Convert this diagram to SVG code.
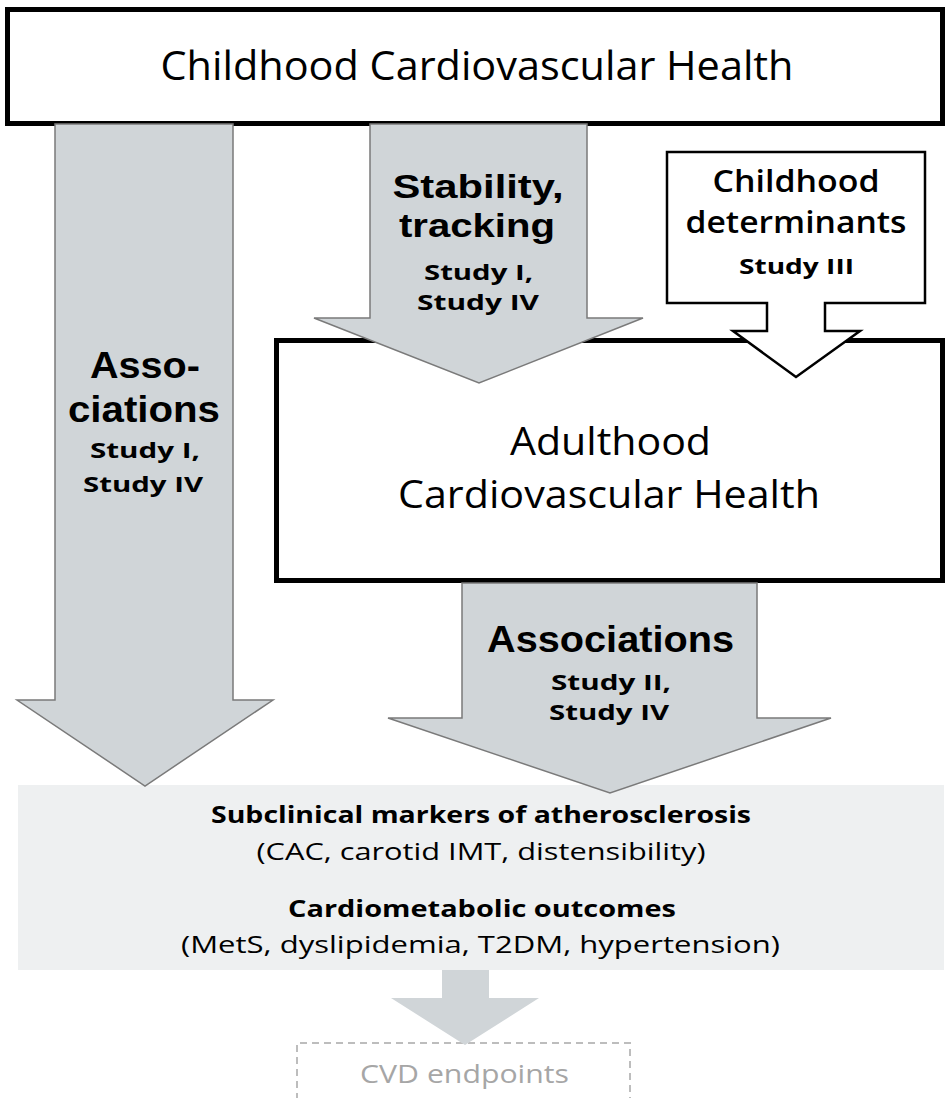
<svg xmlns="http://www.w3.org/2000/svg" width="946" height="1098" viewBox="0 0 946 1098">
<style>
text{font-family:"Open Sans","Liberation Sans",sans-serif;text-anchor:middle;fill:#000}
.b{font-weight:700}
.big{font-family:"Liberation Sans","Open Sans",sans-serif;font-weight:700}
.box{fill:#fff;stroke:#000;stroke-width:5}
.arr{fill:#d0d5d8;stroke:#7a7a7a;stroke-width:1.5;stroke-linejoin:miter}
</style>
<rect width="946" height="1098" fill="#fff"/>
<g id="panel">
<rect x="18" y="785" width="926" height="185" fill="#eef0f1"/>
<text class="b" x="481" y="823" font-size="24" textLength="540" lengthAdjust="spacingAndGlyphs">Subclinical markers of atherosclerosis</text>
<text x="481" y="860" font-size="24" textLength="449" lengthAdjust="spacingAndGlyphs">(CAC, carotid IMT, distensibility)</text>
<text class="b" x="482" y="917" font-size="24" textLength="388" lengthAdjust="spacingAndGlyphs">Cardiometabolic outcomes</text>
<text x="480.5" y="953" font-size="24" textLength="599" lengthAdjust="spacingAndGlyphs">(MetS, dyslipidemia, T2DM, hypertension)</text>
</g>
<g id="cvd">
<path d="M297,1100 V1043 H630 V1100" fill="none" stroke="#bdbdbd" stroke-width="2" stroke-dasharray="7 5"/>
<text x="464.5" y="1083" font-size="26" style="fill:#a6a6a6" textLength="209" lengthAdjust="spacingAndGlyphs">CVD endpoints</text>
</g>
<g id="childhood">
<rect class="box" x="7.5" y="9.5" width="935" height="114"/>
<text x="477" y="80" font-size="40" textLength="633" lengthAdjust="spacingAndGlyphs">Childhood Cardiovascular Health</text>
</g>
<g id="adulthood">
<rect class="box" x="276.5" y="340.5" width="666" height="240"/>
<text x="610.5" y="455" font-size="38" textLength="201" lengthAdjust="spacingAndGlyphs">Adulthood</text>
<text x="609" y="508" font-size="38" textLength="422" lengthAdjust="spacingAndGlyphs">Cardiovascular Health</text>
</g>
<g id="connectors">
<path id="arr-left" class="arr" d="M55,124 H233 V700 H273 L145,786 L17,700 H55 Z"/>
<path id="arr-stability" class="arr" d="M370,124 H587 V318 H643 L479,383 L314,318 H370 Z"/>
<path id="arr-assoc" class="arr" d="M462,583 H757 V718 H831 L610,793 L388,718 H462 Z"/>
<path id="arr-cvd" d="M442,970 H489 V998 H539 L465,1045 L391,998 H442 Z" fill="#d0d5d8"/>
</g>
<g id="determinants">
<path d="M667,152 H925 V303 H825 V331 H860 L796,377 L733,331 H767 V303 H667 Z" fill="#fff" stroke="#000" stroke-width="2.5"/>
<text x="796" y="192" font-size="30" font-weight="600" textLength="167" lengthAdjust="spacingAndGlyphs">Childhood</text>
<text x="796" y="233" font-size="30" font-weight="600" textLength="221" lengthAdjust="spacingAndGlyphs">determinants</text>
<text class="b" x="796.5" y="274" font-size="22" textLength="115" lengthAdjust="spacingAndGlyphs">Study III</text>
</g>
<g id="labels">
<text class="big" x="478" y="198" font-size="33" textLength="171" lengthAdjust="spacingAndGlyphs">Stability,</text>
<text class="big" x="477" y="237" font-size="33" textLength="156" lengthAdjust="spacingAndGlyphs">tracking</text>
<text class="b" x="478.5" y="280" font-size="22" textLength="109" lengthAdjust="spacingAndGlyphs">Study I,</text>
<text class="b" x="478" y="310" font-size="22" textLength="122" lengthAdjust="spacingAndGlyphs">Study IV</text>
<text class="big" x="145" y="378" font-size="36" textLength="110" lengthAdjust="spacingAndGlyphs">Asso-</text>
<text class="big" x="144" y="422" font-size="36" textLength="152" lengthAdjust="spacingAndGlyphs">ciations</text>
<text class="b" x="145" y="458" font-size="22" textLength="110" lengthAdjust="spacingAndGlyphs">Study I,</text>
<text class="b" x="143" y="492" font-size="22" textLength="120" lengthAdjust="spacingAndGlyphs">Study IV</text>
<text class="big" x="610.5" y="652" font-size="36" textLength="247" lengthAdjust="spacingAndGlyphs">Associations</text>
<text class="b" x="611" y="690" font-size="22" textLength="120" lengthAdjust="spacingAndGlyphs">Study II,</text>
<text class="b" x="609" y="720" font-size="22" textLength="120" lengthAdjust="spacingAndGlyphs">Study IV</text>
</g>
</svg>
